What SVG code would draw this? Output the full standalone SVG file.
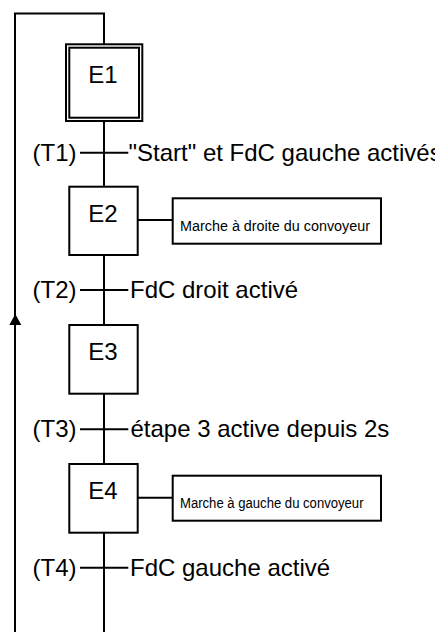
<svg xmlns="http://www.w3.org/2000/svg" width="435" height="632" viewBox="0 0 435 632">
<style>
  .ln{fill:none;stroke:#000;stroke-width:2}
  .box{fill:#fff;stroke:#000;stroke-width:2}
  .step{font-family:"Liberation Sans",Arial,sans-serif;font-size:24px;fill:#000;text-anchor:middle}
  .tr{font-family:"Liberation Sans",Arial,sans-serif;font-size:24px;fill:#000}
  .act{font-family:"Liberation Sans",Arial,sans-serif;font-size:14px;fill:#000}
</style>
<rect width="435" height="632" fill="#fff"/>
<g id="connectors">
  <polyline class="ln" points="15,632 15,13.5 104,13.5 104,44"/>
  <polygon points="15.3,314 9.3,325 21.3,325" fill="#000"/>
  <line class="ln" x1="104" y1="121" x2="104" y2="187"/>
  <line class="ln" x1="104" y1="255" x2="104" y2="325"/>
  <line class="ln" x1="104" y1="394" x2="104" y2="464"/>
  <line class="ln" x1="104" y1="533" x2="104" y2="632"/>
  <line class="ln" x1="137.7" y1="220" x2="172.7" y2="220"/>
  <line class="ln" x1="137.7" y1="497.7" x2="172.7" y2="497.7"/>
</g>
<g id="E1">
  <rect class="box" x="66" y="44.3" width="76.3" height="76.7"/>
  <rect class="box" x="69.3" y="47.7" width="69.7" height="70"/>
  <text class="step" x="103" y="83.3">E1</text>
</g>
<g id="T1">
  <line class="ln" x1="80" y1="152.7" x2="128.3" y2="152.7"/>
  <text class="tr" x="32.5" y="160.5">(T1)</text>
  <text class="tr" x="128.5" y="160.5">"Start" et FdC gauche activés</text>
</g>
<g id="E2">
  <rect class="box" x="69.3" y="186.7" width="68.4" height="68.3"/>
  <text class="step" x="103" y="222">E2</text>
</g>
<g id="A1">
  <rect class="box" x="172.7" y="198.3" width="208.3" height="45.4"/>
  <text class="act" x="180" y="231" textLength="190" lengthAdjust="spacingAndGlyphs">Marche à droite du convoyeur</text>
</g>
<g id="T2">
  <line class="ln" x1="80" y1="290" x2="128.3" y2="290"/>
  <text class="tr" x="32.5" y="297.8">(T2)</text>
  <text class="tr" x="130" y="297.8">FdC droit activé</text>
</g>
<g id="E3">
  <rect class="box" x="69.3" y="325" width="68.4" height="68.7"/>
  <text class="step" x="103" y="359.5">E3</text>
</g>
<g id="T3">
  <line class="ln" x1="80" y1="429.3" x2="128.3" y2="429.3"/>
  <text class="tr" x="32.5" y="437.1">(T3)</text>
  <text class="tr" x="130.5" y="437.1">étape 3 active depuis 2s</text>
</g>
<g id="E4">
  <rect class="box" x="69.3" y="464" width="68.4" height="68.7"/>
  <text class="step" x="103" y="499">E4</text>
</g>
<g id="A2">
  <rect class="box" x="172.7" y="475.7" width="208.3" height="45"/>
  <text class="act" x="180" y="508" textLength="183.5" lengthAdjust="spacingAndGlyphs">Marche à gauche du convoyeur</text>
</g>
<g id="T4">
  <line class="ln" x1="80" y1="567.7" x2="128.3" y2="567.7"/>
  <text class="tr" x="32.5" y="575.5">(T4)</text>
  <text class="tr" x="130" y="575.5">FdC gauche activé</text>
</g>
</svg>
